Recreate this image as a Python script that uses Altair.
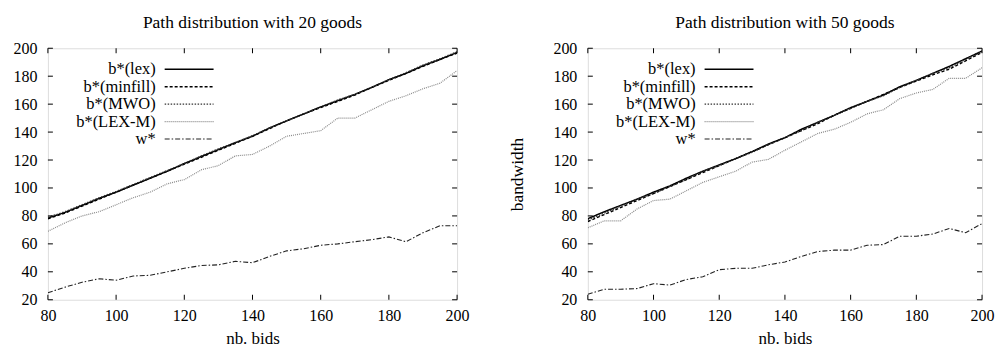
import altair as alt
import pandas as pd

bids = list(range(80, 205, 5))
series = ["b*(lex)", "b*(minfill)", "b*(MWO)", "b*(LEX-M)", "w*"]
xticks = [80, 100, 120, 140, 160, 180, 200]
yticks = [20, 40, 60, 80, 100, 120, 140, 160, 180, 200]

# Path distribution with 20 goods
lex20 = [78.5, 82.5, 87.5, 92.5, 97, 102, 107, 112, 117.5, 122.5, 127.5, 132.5, 137, 143, 148, 153, 158, 162.5, 167, 172, 177.5, 182, 187.5, 192, 197]
minfill20 = [78, 82, 87, 92, 97, 102, 107, 112, 117, 122, 127, 132, 137, 142.5, 148, 153, 157.5, 162, 166.5, 172, 177, 182, 187, 192, 196.5]
mwo20 = [79, 83, 88, 93, 97.5, 102.5, 107.5, 112.5, 117.5, 123, 128, 132.5, 137.5, 143, 148, 153, 158, 163, 167, 172, 177.5, 182.5, 188, 192.5, 197.5]
lexm20 = [69, 75, 80, 83, 88, 93, 97, 103, 106, 113, 116, 123, 124, 130, 137, 139, 141, 150, 150, 156, 162, 166, 171, 175, 184]
w20 = [25, 29, 32.5, 35, 34, 37, 37.5, 40, 42.5, 44.5, 45, 47.5, 46.5, 51, 55, 56.5, 59, 60, 61.5, 63, 65, 61.5, 68, 73, 73]

# Path distribution with 50 goods
lex50 = [78, 83, 87.5, 92, 97, 101.5, 107, 112, 116.5, 121, 126, 131.5, 136, 142, 147, 152, 157.5, 162, 166.5, 172.5, 177, 182, 187, 192.5, 198]
minfill50 = [76, 81, 86, 91, 96, 101, 106, 111, 116, 121, 126, 131, 136, 141, 146, 152, 157, 162, 167, 172, 176.5, 181, 185, 191, 197]
mwo50 = [77, 82, 87, 92, 96, 101, 106, 112, 116, 121, 125.5, 131, 136, 141, 147, 152, 157, 162, 166, 172, 177, 182, 186, 192, 197.5]
lexm50 = [71.5, 76.5, 76.5, 85, 91, 92, 98, 104, 108, 112, 118.5, 120.5, 127, 133, 139, 142, 147, 153, 156, 164, 168, 170.5, 178.5, 178.5, 186]
w50 = [24, 27.5, 27.5, 28, 31.5, 30.5, 34.5, 36.5, 41.5, 42.5, 42.5, 45, 47, 51, 54.5, 55.5, 55.5, 59, 59.5, 65.5, 65.5, 67, 71, 68, 74.5]

FONT = "Liberation Serif"
colors = ["#000000", "#000000", "#333333", "#8a8a8a", "#222222"]
dashes = [[1, 0], [3, 2], [1.5, 1.5], [1, 1], [5, 2, 1.5, 2]]
widths = [1.5, 1.1, 1.1, 1.1, 1.1]


def long_df(cols):
    rows = []
    for name, vals in zip(series, cols):
        for b, v in zip(bids, vals):
            rows.append({"bids": b, "value": v, "series": name})
    return pd.DataFrame(rows)


def panel(cols, title, ytitle, W, H):
    df = long_df(cols)
    x_sc = alt.Scale(domain=[80, 200], nice=False, zero=False)
    y_sc = alt.Scale(domain=[20, 200], nice=False, zero=False)
    c_sc = alt.Scale(domain=series, range=colors)
    d_sc = alt.Scale(domain=series, range=dashes)
    w_sc = alt.Scale(domain=series, range=widths)

    yaxis_args = dict(values=yticks, ticks=False, domain=False, grid=False,
                      labelPadding=11, labelFont=FONT, labelFontSize=16,
                      labelColor="black", labelFlush=False)
    if ytitle:
        yaxis_args.update(title=ytitle, titleFont=FONT, titleFontSize=17.5,
                          titleFontWeight="normal", titleColor="black", titlePadding=26)
    else:
        yaxis_args.update(title=None)

    lines = alt.Chart(df).mark_line(clip=True).encode(
        x=alt.X("bids:Q", scale=x_sc,
                axis=alt.Axis(values=xticks, title="nb. bids", ticks=False, domain=False,
                              grid=False, labelPadding=8, labelFont=FONT, labelFontSize=16,
                              labelColor="black", labelFlush=False, titleFont=FONT,
                              titleFontSize=17, titleFontWeight="normal", titleColor="black",
                              titlePadding=7)),
        y=alt.Y("value:Q", scale=y_sc, axis=alt.Axis(**yaxis_args)),
        color=alt.Color("series:N", scale=c_sc, legend=None),
        strokeDash=alt.StrokeDash("series:N", scale=d_sc, legend=None),
        strokeWidth=alt.StrokeWidth("series:N", scale=w_sc, legend=None),
    )

    xt = pd.DataFrame({"t": xticks})
    yt = pd.DataFrame({"t": yticks})
    tick_bottom = alt.Chart(xt).mark_rule(color="black").encode(
        x=alt.X("t:Q", scale=x_sc), y=alt.value(H - 5), y2=alt.value(H))
    tick_top = alt.Chart(xt).mark_rule(color="black").encode(
        x=alt.X("t:Q", scale=x_sc), y=alt.value(0), y2=alt.value(5))
    tick_left = alt.Chart(yt).mark_rule(color="black").encode(
        y=alt.Y("t:Q", scale=y_sc, axis=None), x=alt.value(0), x2=alt.value(5))
    tick_right = alt.Chart(yt).mark_rule(color="black").encode(
        y=alt.Y("t:Q", scale=y_sc, axis=None), x=alt.value(W - 5), x2=alt.value(W))

    leg = pd.DataFrame({"series": series, "rank": list(range(len(series)))})
    leg_y = alt.Y("rank:Q", scale=alt.Scale(domain=[0, 4], range=[21, 91]), axis=None)
    leg_lines = alt.Chart(leg).mark_rule().encode(
        y=leg_y, x=alt.value(117), x2=alt.value(166),
        color=alt.Color("series:N", scale=c_sc, legend=None),
        strokeDash=alt.StrokeDash("series:N", scale=d_sc, legend=None),
        strokeWidth=alt.StrokeWidth("series:N", scale=w_sc, legend=None),
    )
    leg_text = alt.Chart(leg).mark_text(align="right", baseline="middle", font=FONT,
                                        fontSize=16.5, color="black").encode(
        y=leg_y, x=alt.value(108), text="series:N")

    return alt.layer(lines, tick_bottom, tick_top, tick_left, tick_right,
                     leg_lines, leg_text).resolve_scale(y="independent").properties(
        width=W, height=H,
        title=alt.TitleParams(title, font=FONT, fontSize=17.5, fontWeight="normal",
                              color="black", offset=9))


left = panel([lex20, minfill20, mwo20, lexm20, w20], "Path distribution with 20 goods", None, 410, 252)
right = panel([lex50, minfill50, mwo50, lexm50, w50], "Path distribution with 50 goods", "bandwidth", 395, 252)

chart = alt.hconcat(left, right, spacing=38).properties(
    padding={"left": 12, "top": 13, "right": 4, "bottom": 2}
).configure_view(stroke="black", strokeWidth=1.2).configure(background="white")

chart.save("out.html", embed_options={"renderer": "svg", "actions": False})
